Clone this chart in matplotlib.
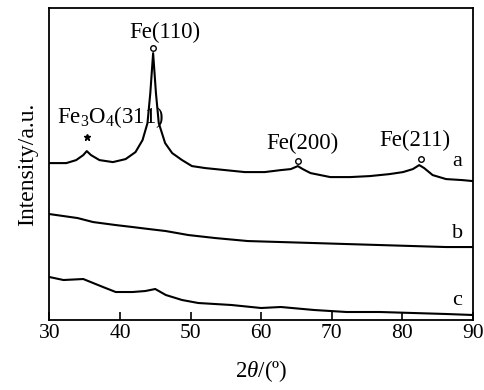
import matplotlib
matplotlib.use("Agg")
import matplotlib.pyplot as plt

plt.rcParams['font.family'] = ['Liberation Serif', 'DejaVu Serif']
plt.rcParams['mathtext.fontset'] = 'custom'
plt.rcParams['mathtext.rm'] = 'Liberation Serif'
plt.rcParams['mathtext.it'] = 'Liberation Serif:italic'

# curve a (Fe peaks)
a_x = [30.0, 32.4, 33.8, 34.8, 35.3, 35.9, 37.1, 39.0, 40.8, 42.2, 43.2, 43.9,
       44.3, 44.7, 45.1, 45.5, 46.4, 47.4, 48.8, 50.2, 52.1, 54.9, 57.7, 60.5,
       62.8, 64.2, 65.2, 65.9, 67.0, 69.8, 72.6, 75.4, 78.2, 80.1, 81.5, 82.4,
       83.1, 84.3, 86.2, 88.5, 90.0]
a_y = [157, 157, 160, 165, 169, 165, 160, 158, 161, 168, 180, 197,
       227, 267, 227, 197, 177, 167, 160, 154, 152, 150, 148, 148,
       150, 151, 154, 151, 147, 143, 143, 144, 146, 148, 151, 155,
       152, 145, 141, 140, 139]

b_x = [30.0, 32.0, 34.0, 36.2, 39.4, 41.8, 44.1, 46.5, 49.7, 53.5, 58.1, 62.8,
       67.5, 72.1, 76.8, 81.5, 86.2, 90.0]
b_y = [106, 104, 102, 98, 95, 93, 91, 89, 85, 82, 79, 78,
       77, 76, 75, 74, 73, 73]

c_x = [30.0, 32.0, 34.8, 36.2, 37.6, 39.4, 41.8, 43.6, 45.0, 46.5, 48.8, 51.1,
       55.8, 60.0, 62.8, 67.5, 72.1, 76.8, 81.5, 86.2, 90.0]
c_y = [43, 40, 41, 37, 33, 28, 28, 29, 31, 25, 20, 17,
       15, 12, 13, 10, 8, 8, 7, 6, 5]

peak_labels = ["Fe$_3$O$_4$(311)", "Fe(110)", "Fe(200)", "Fe(211)"]
peak_x = [35.3, 44.7, 65.2, 82.6]
peak_mark_y = [183, 272, 159, 161]
label_x = [38.7, 46.4, 65.8, 81.8]
label_y = [203, 288, 177, 180]

fig = plt.figure(figsize=(4.84, 3.90), dpi=100)
ax = fig.add_axes([0.102, 0.1795, 0.875, 0.7995])

for xs, ys in [(a_x, a_y), (b_x, b_y), (c_x, c_y)]:
    ax.plot(xs, ys, color='black', lw=1.5)

# peak markers: star for Fe3O4, open circles for Fe
ax.plot(peak_x[0], peak_mark_y[0], marker='*', color='black', ms=5, ls='none')
ax.plot(peak_x[1:], peak_mark_y[1:], marker='o', mfc='white', mec='black',
        mew=1.0, ms=4, ls='none')

for lab, lx, ly in zip(peak_labels, label_x, label_y):
    ax.text(lx, ly, lab, ha='center', va='center', fontsize=16.5)

for lab, ly in zip(['a', 'b', 'c'], [159, 87, 20]):
    ax.text(87.8, ly, lab, ha='center', va='center', fontsize=16)

ax.set_xlim(30, 90)
ax.set_ylim(0, 312)
ax.set_xticks([30, 40, 50, 60, 70, 80, 90])
ax.set_yticks([])
ax.tick_params(axis='x', direction='in', length=6, width=1.2, labelsize=15.5, pad=3)
for s in ax.spines.values():
    s.set_linewidth(1.3)

ax.set_xlabel(r"2$\it{\theta}$/(º)", fontsize=16.5, labelpad=11)
ax.set_ylabel("Intensity/a.u.", fontsize=17, labelpad=8)

fig.savefig("out.png", dpi=100)
